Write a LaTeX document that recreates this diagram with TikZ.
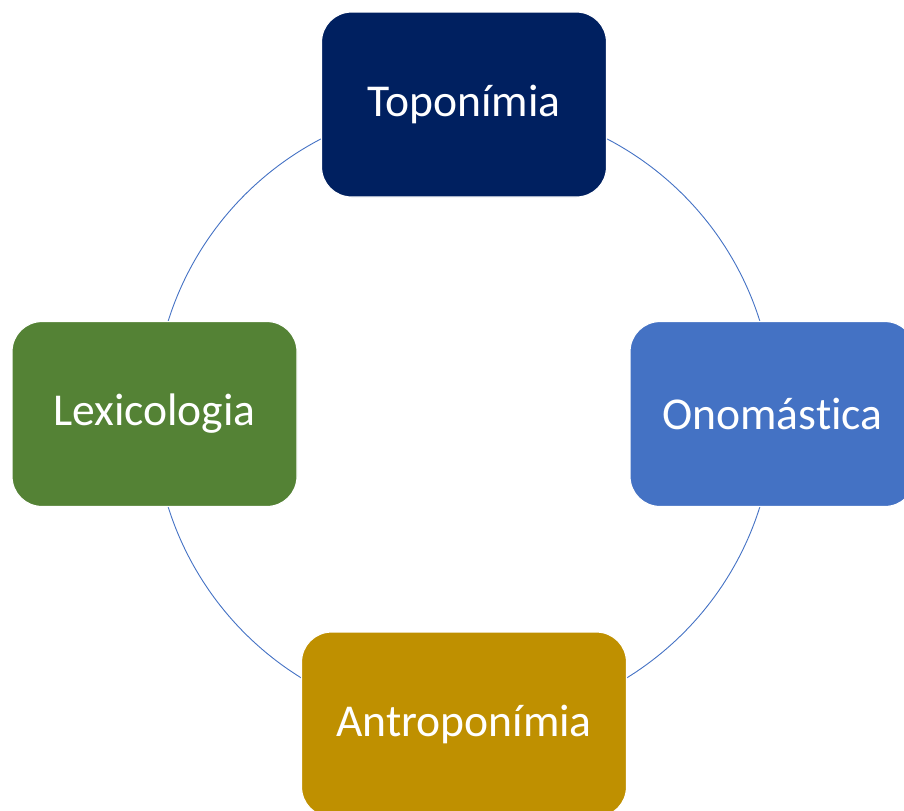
\documentclass[tikz,border=0pt]{standalone}
\usepackage{fontspec}
\setmainfont[Ligatures={NoCommon}]{Carlito}
\definecolor{navy}{HTML}{002060}
\definecolor{oblue}{HTML}{4472C4}
\definecolor{ogreen}{HTML}{548235}
\definecolor{ogold}{HTML}{BF9000}
\begin{document}
\begin{tikzpicture}[x=0.5pt,y=-0.5pt,
  box/.style={rectangle, rounded corners=15pt, draw=white, line width=0.6pt,
    minimum width=142.5pt, minimum height=92.5pt, text=white,
    font=\fontsize{22.8pt}{28pt}\selectfont, inner sep=0pt},
  ring/.style={draw=oblue, line width=0.45pt}]
\useasboundingbox (0,0) rectangle (904,810);
\clip (0,0) rectangle (904,810);
\coordinate (c) at (464,414);
\draw[ring] (c) circle[radius=155pt];
\node[box, fill=navy] (top) at (464,104.5) {Toponímia};
\node[box, fill=oblue] (right) at (772.5,414) {Onomástica};
\node[box, fill=ogreen] (left) at (154.5,414) {Lexicologia};
\node[box, fill=ogold, minimum width=162.5pt] (bottom) at (464,724.5) {Antroponímia};
\end{tikzpicture}
\end{document}
